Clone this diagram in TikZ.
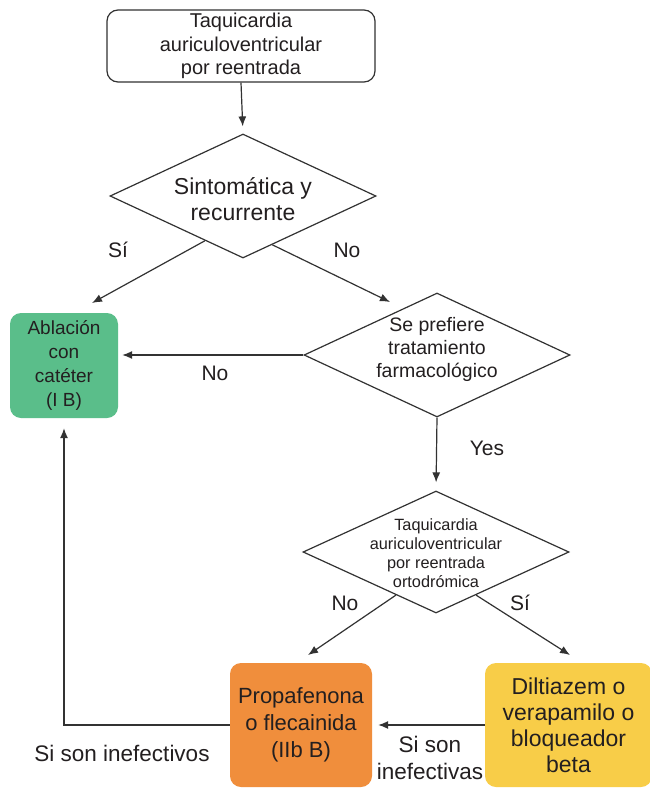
\documentclass[tikz,border=0pt]{standalone}
\usepackage{fontspec}
\setmainfont{Liberation Sans}
\usetikzlibrary{shapes.geometric,arrows.meta,calc}
\definecolor{lc}{RGB}{50,50,50}
\definecolor{tc}{RGB}{35,31,32}
\definecolor{gbox}{RGB}{90,190,138}
\definecolor{obox}{RGB}{240,142,60}
\definecolor{ybox}{RGB}{248,205,72}
\tikzset{
  conn/.style={draw=lc,line width=1.2pt,-{Latex[length=10pt,width=8pt]}},
  rbox/.style={rounded corners=11pt,inner sep=0pt,align=center,text=tc},
  dia/.style={draw=lc,line width=1.2pt,shape=diamond,inner sep=0pt,minimum width=266pt,minimum height=124pt},
  dtext/.style={align=center,text=tc,inner sep=0pt},
  lab/.style={text=tc,inner sep=0pt,font=\fontsize{21}{25}\selectfont}
}
\begin{document}
\begin{tikzpicture}[x=1pt,y=-1pt]
\useasboundingbox (0,0) rectangle (650,790);
\clip (0,0) rectangle (650,790);
\fill[white] (0,0) rectangle (650,790);

% boxes
\node[rbox,draw=lc,line width=1.2pt,minimum width=268pt,minimum height=72pt,
      font=\fontsize{20}{23.5}\selectfont] (top) at (241,46)
      {Taquicardia\\auriculoventricular\\por reentrada};
\node[dia] (d1) at (243,196) {};
\node[dtext,font=\fontsize{23}{25.5}\selectfont] (d1t) at (243,199) {Sintomática y\\recurrente};

\node[rbox,fill=gbox,minimum width=108pt,minimum height=105pt,
      font=\fontsize{19}{24}\selectfont] (abl) at (64,365.5)
      {Ablación\\con\\catéter\\(I B)};

\node[dia] (d2) at (437,355) {};
\node[dtext,font=\fontsize{19.5}{23}\selectfont] (d2t) at (437,349) {Se prefiere\\tratamiento\\farmacológico};

\node[dia,minimum height=122pt] (d3) at (436,552) {};
\node[dtext,font=\fontsize{16.3}{19}\selectfont] (d3t) at (436,553) {Taquicardia\\auriculoventricular\\por reentrada\\ortodrómica};

\node[rbox,fill=obox,minimum width=142pt,minimum height=124pt,
      font=\fontsize{22}{27}\selectfont] (pro) at (301,725)
      {Propafenona\\o flecainida\\(IIb B)};
\node[rbox,fill=ybox,minimum width=167pt,minimum height=124pt,
      font=\fontsize{23}{26}\selectfont] (dil) at (568.5,725)
      {Diltiazem o\\verapamilo o\\bloqueador\\beta};

% coordinates for free ends
\coordinate (sistart) at ($(d1.west)!0.715!(d1.south)$);
\coordinate (siend) at (92,303);
\coordinate (nostart) at ($(d1.south)!0.22!(d1.east)$);
\coordinate (noend) at (390,302);
\coordinate (d3no) at ($(d3.west)!0.7!(d3.south)$);
\coordinate (d3noend) at (308,655);
\coordinate (d3si) at ($(d3.south)!0.3!(d3.east)$);
\coordinate (d3siend) at (570,655);

% connectors
\draw[conn,shorten >=7pt] (top.south) -- (d1.north);
\draw[conn] (sistart) -- (siend);
\draw[conn] (nostart) -- (noend);
\draw[conn,shorten >=4pt] (d2.west) -- (d2.west -| abl.east);
\draw[conn,shorten >=8pt] (d2.south) -- (d3.north);
\draw[conn] (d3no) -- (d3noend);
\draw[conn] (d3si) -- (d3siend);
\draw[conn,shorten >=6pt] (dil.west) -- (pro.east);
\draw[conn,shorten >=10pt] (pro.west) -| (abl.south);

% labels
\node[lab] (lsi1) at (118,250) {Sí};
\node[lab] (lno1) at (347,250) {No};
\node[lab] (lno2) at (215,373) {No};
\node[lab] (lyes) at (487,448) {Yes};
\node[lab] (lno3) at (345,603) {No};
\node[lab] (lsi3) at (520,603) {Sí};
\node[lab,font=\fontsize{22.5}{27}\selectfont] (lsin1) at (122,753) {Si son inefectivos};
\node[lab,font=\fontsize{22.5}{27}\selectfont,align=center] (lsin2) at (430,758) {Si son\\inefectivas};
\end{tikzpicture}
\end{document}
